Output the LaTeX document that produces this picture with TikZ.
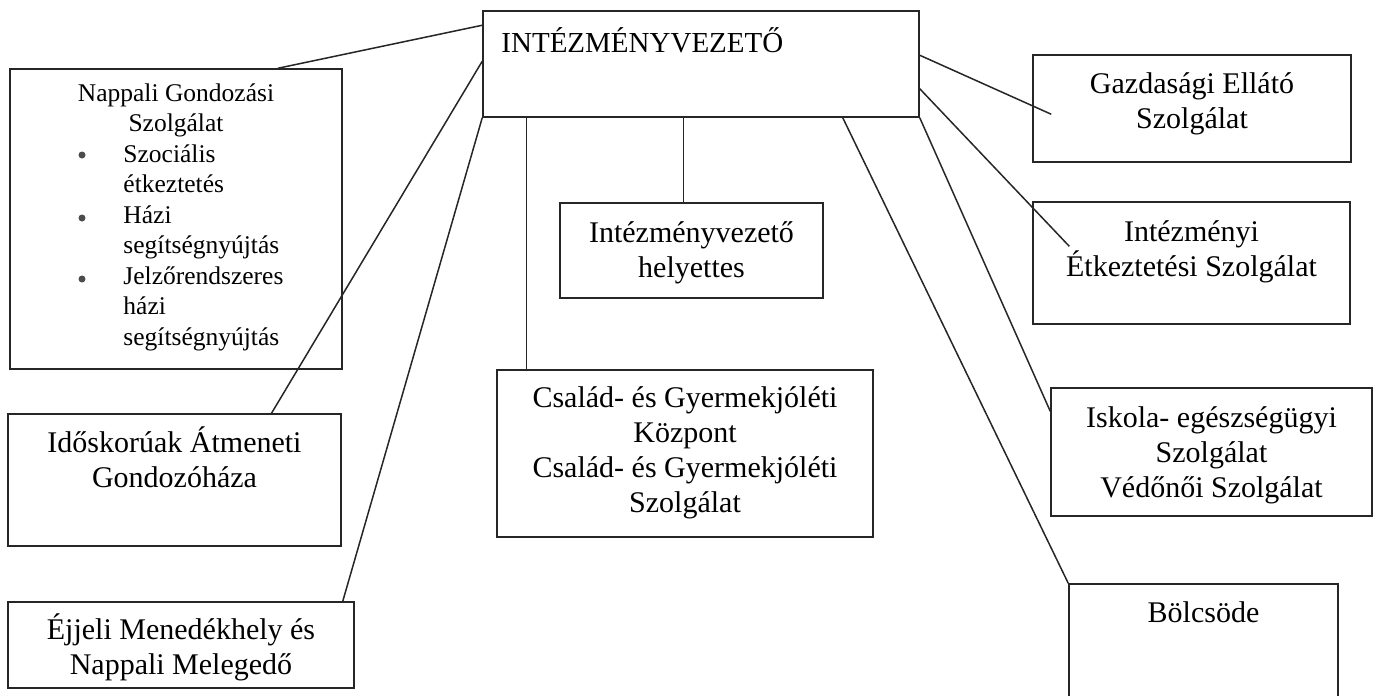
\documentclass[tikz,border=0pt]{standalone}
\usepackage{fontspec}
\setmainfont{Liberation Serif}
\usepackage{tikz}
\usetikzlibrary{calc}

\newcommand{\bigstrut}{\rule{0pt}{30pt}}
\newcommand{\lowstrut}{\rule{0pt}{25pt}}

\tikzset{
  box/.style={draw=black!85, line width=1.5pt, inner sep=0pt},
  conn/.style={draw=black!85, line width=1.5pt},
  boxtext/.style={font=\fontsize{30}{35}\selectfont, align=center, inner sep=0pt, anchor=north},
  smalltext/.style={font=\fontsize{25.5}{30.5}\selectfont, inner sep=0pt},
}

\begin{document}
\begin{tikzpicture}[x=1pt, y=-1pt]
    \useasboundingbox (0,0) rectangle (1379,696);
    \clip (0,0) rectangle (1379,696);

    % vezeto
    \node[box, minimum width=436pt, minimum height=106pt] (boss) at (701,64) {};
    \node[font=\fontsize{29}{35}\selectfont, inner sep=0pt, anchor=base west] (bosstxt)
        at ([xshift=19pt,yshift=-42pt]boss.north west) {INTÉZMÉNYVEZETŐ};

    % bal oszlop
    \node[box, minimum width=332pt, minimum height=300pt] (napp) at (176,219) {};
    \node[smalltext, align=center, anchor=north] (napptitle) at ([yshift=-8pt]napp.north)
        {\lowstrut Nappali Gondozási\\Szolgálat};
    \node[smalltext, align=left, anchor=north west] (napplist) at ([xshift=114pt,yshift=-69pt]napp.north west)
        {\lowstrut Szociális\\étkeztetés\\Házi\\segítségnyújtás\\Jelzőrendszeres\\házi\\segítségnyújtás};
    \foreach \y in {155,218,279}
        \fill[black!70] (82,\y) circle (3.5pt);

    \node[box, minimum width=333pt, minimum height=132pt] (idos) at (174.5,480) {};
    \node[boxtext] (idostxt) at ([yshift=-9pt]idos.north) {\bigstrut Időskorúak Átmeneti\\Gondozóháza};

    \node[box, minimum width=346pt, minimum height=86pt] (ejj) at (181,645) {};
    \node[boxtext] (ejjtxt) at ([yshift=-8pt]ejj.north) {\bigstrut Éjjeli Menedékhely és\\Nappali Melegedő};

    % kozep
    \node[box, minimum width=263pt, minimum height=95pt] (hely) at (691.5,250.5) {};
    \node[boxtext] (helytxt) at ([yshift=-10pt]hely.north) {\bigstrut Intézményvezető\\helyettes};

    \node[box, minimum width=376pt, minimum height=167pt] (csal) at (685,453.5) {};
    \node[boxtext] (csaltxt) at ([yshift=-8pt]csal.north)
        {\bigstrut Család- és Gyermekjóléti\\Központ\\Család- és Gyermekjóléti\\Szolgálat};

    % jobb oszlop
    \node[box, minimum width=318pt, minimum height=107pt] (gazd) at (1192,108.5) {};
    \node[boxtext] (gazdtxt) at ([yshift=-9pt]gazd.north) {\bigstrut Gazdasági Ellátó\\Szolgálat};

    \node[box, minimum width=317pt, minimum height=122pt] (inte) at (1191.5,263) {};
    \node[boxtext] (intetxt) at ([yshift=-10pt]inte.north) {\bigstrut Intézményi\\Étkeztetési Szolgálat};

    \node[box, minimum width=321pt, minimum height=128pt] (isk) at (1211.5,452) {};
    \node[boxtext] (isktxt) at ([yshift=-10pt]isk.north)
        {\bigstrut Iskola- egészségügyi\\Szolgálat\\Védőnői Szolgálat};

    \node[box, minimum width=269pt, minimum height=156pt] (bolc) at (1203.5,662) {};
    \node[boxtext] (bolctxt) at ([yshift=-9pt]bolc.north) {\bigstrut Bölcsöde};

    % vonalak
    \draw[conn] ([yshift=-15pt]boss.north west) -- ([xshift=102pt]napp.north);
    \draw[conn] ([yshift=-51pt]boss.north west) -- ([xshift=97pt]idos.north);
    \draw[conn] (boss.south west) -- ([xshift=-12pt]ejj.north east);

    \coordinate (csaltop) at ([xshift=30pt]csal.north west);
    \draw[conn] (csaltop) -- (csaltop |- boss.south);
    \coordinate (helytop) at ([xshift=-8pt]hely.north);
    \draw[conn] (helytop) -- (helytop |- boss.south);

    \draw[conn] ([xshift=-77pt]boss.south east) -- (bolc.north west);
    \draw[conn] (boss.south east) -- ([yshift=-24pt]isk.north west);
    \draw[conn] ([yshift=29pt]boss.south east) -- ([xshift=37pt,yshift=-45pt]inte.north west);
    \draw[conn] ([yshift=-45pt]boss.north east) -- ([xshift=19pt,yshift=-60pt]gazd.north west);
\end{tikzpicture}
\end{document}
